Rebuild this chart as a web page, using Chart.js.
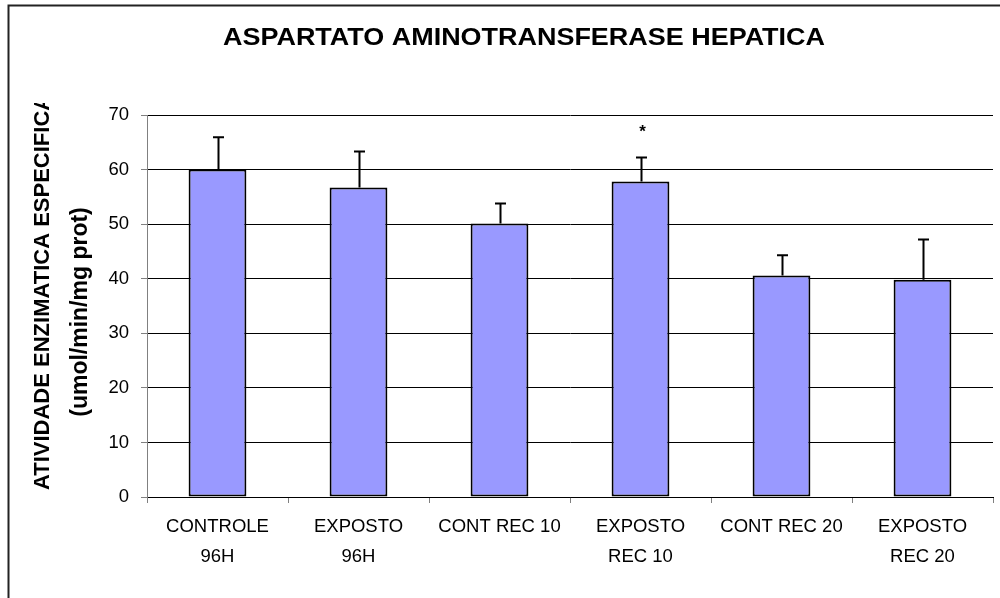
<!DOCTYPE html>
<html>
<head>
<meta charset="utf-8">
<script src="https://cdn.jsdelivr.net/npm/chart.js@4/dist/chart.umd.min.js"></script>
<style>
  html, body { margin: 0; padding: 0; background: #fff; }
  #wrap { width: 1000px; height: 598px; }
</style>
</head>
<body>
<div id="wrap"><canvas id="chart" width="1000" height="598"></canvas></div>
<script>
const chartTitle = 'ASPARTATO AMINOTRANSFERASE HEPATICA';
const yTitle = ['ATIVIDADE ENZIMATICA ESPECIFICA', '(umol/min/mg prot)'];
const categories = [
  ['CONTROLE', '96H'],
  ['EXPOSTO', '96H'],
  'CONT REC 10',
  ['EXPOSTO', 'REC 10'],
  'CONT REC 20',
  ['EXPOSTO', 'REC 20'],
];
const means = [60.0, 56.7, 50.1, 57.8, 40.6, 39.8];
const errors = [5.9, 6.6, 3.7, 4.4, 3.7, 7.4];
const marks = ['', '', '', '*', '', ''];
const yTicks = [0, 10, 20, 30, 40, 50, 60, 70];

const FONT = "'Liberation Sans', Arial, sans-serif";

// frame, titles, error bars
const decorations = {
  id: 'decorations',
  beforeDraw(chart) {
    const ctx = chart.ctx;
    ctx.save();
    ctx.strokeStyle = '#222';
    ctx.lineWidth = 2;
    ctx.beginPath();
    ctx.moveTo(8.5, 620);
    ctx.lineTo(8.5, 5.5);
    ctx.lineTo(1020, 5.5);
    ctx.stroke();
    ctx.restore();
  },
  afterDatasetsDraw(chart) {
    const ctx = chart.ctx;
    const meta = chart.getDatasetMeta(0);
    const y = chart.scales.y;
    ctx.save();
    ctx.strokeStyle = '#000';
    ctx.lineWidth = 2;
    meta.data.forEach((bar, i) => {
      const top = y.getPixelForValue(means[i] + errors[i]);
      const base = y.getPixelForValue(means[i]);
      const x = Math.round(bar.x) + 0.5;
      ctx.beginPath();
      ctx.moveTo(x, base);
      ctx.lineTo(x, top);
      ctx.moveTo(x - 5.5, top);
      ctx.lineTo(x + 5.5, top);
      ctx.stroke();
      if (marks[i]) {
        ctx.fillStyle = '#000';
        ctx.font = 'bold 17px ' + FONT;
        ctx.textAlign = 'center';
        ctx.textBaseline = 'middle';
        ctx.fillText(marks[i], x + 1, top - 25);
      }
    });
    ctx.restore();
  },
  afterDraw(chart) {
    const ctx = chart.ctx;
    ctx.save();
    ctx.fillStyle = '#000';
    ctx.font = 'bold 23px ' + FONT;
    ctx.textAlign = 'center';
    ctx.textBaseline = 'middle';
    ctx.save();
    ctx.translate(524, 39);
    const w = ctx.measureText(chartTitle).width;
    ctx.scale(602 / w, 1);
    ctx.fillText(chartTitle, 0, 0);
    ctx.restore();

    // y axis title, first line clipped at top as in the original
    ctx.font = 'bold 22px ' + FONT;
    ctx.save();
    ctx.beginPath();
    ctx.rect(20, 103, 100, 400);
    ctx.clip();
    ctx.translate(43, 490);
    ctx.rotate(-Math.PI / 2);
    ctx.textAlign = 'left';
    ctx.fillText(yTitle[0], 0, 0);
    ctx.restore();

    ctx.font = 'bold 23px ' + FONT;
    ctx.translate(81, 312);
    ctx.rotate(-Math.PI / 2);
    ctx.textAlign = 'center';
    ctx.fillText(yTitle[1], 0, 0);
    ctx.restore();
  },
};

new Chart(document.getElementById('chart').getContext('2d'), {
  type: 'bar',
  data: {
    labels: categories,
    datasets: [
      {
        data: means,
        backgroundColor: '#9999FF',
        borderColor: '#000',
        borderWidth: 2,
        borderSkipped: false,
        barPercentage: 0.41,
        categoryPercentage: 1,
      },
    ],
  },
  options: {
    responsive: false,
    animation: false,
    layout: { padding: { top: 115, right: 7, left: 0, bottom: 0 } },
    plugins: {
      legend: { display: false },
      title: { display: false },
      tooltip: { enabled: false },
    },
    scales: {
      x: {
        grid: {
          display: true,
          drawOnChartArea: false,
          drawTicks: true,
          tickLength: 6,
          tickColor: '#808080',
          offset: true,
        },
        border: { display: true, color: '#000', width: 1 },
        ticks: {
          color: '#000',
          padding: 9,
          maxRotation: 0,
          autoSkip: false,
          font: { family: FONT, size: 18.5, lineHeight: 1.62 },
        },
        afterFit(scale) {
          scale.height = 101;
        },
      },
      y: {
        min: 0,
        max: 70,
        afterBuildTicks(scale) {
          scale.ticks = yTicks.map((v) => ({ value: v }));
        },
        grid: {
          color: '#000',
          lineWidth: 1,
          drawTicks: true,
          tickLength: 6,
          tickColor: '#808080',
        },
        border: { display: true, color: '#808080', width: 1 },
        ticks: {
          color: '#000',
          padding: 12,
          font: { family: FONT, size: 18.5 },
        },
        afterFit(scale) {
          scale.width = 147;
        },
      },
    },
  },
  plugins: [decorations],
});
</script>
</body>
</html>
